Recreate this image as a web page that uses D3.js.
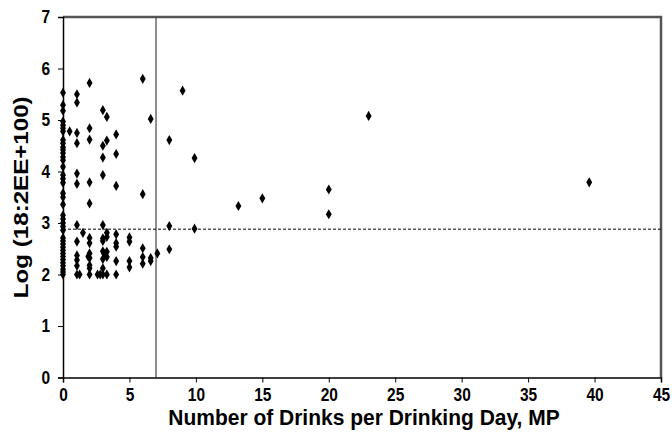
<!DOCTYPE html>
<html><head><meta charset="utf-8">
<script src="https://cdn.jsdelivr.net/npm/d3@7"></script>
<style>body{margin:0;background:#fff}svg{display:block}text{font-family:"Liberation Sans",Arial,sans-serif;font-weight:bold}</style>
</head><body>
<svg id="c" width="672" height="443"></svg>
<script>
// x values (drinks per drinking day) and y values (log(18:2EE+100))
const drinks = [
  0,0,0,0,0,0,0,0,0,0,0,0,0,0,0,0,0,0,0,0,0,0,0,0,0,0,0,0,0,0,0,0,0,0,0,0,0,0,0,
  0.5,1.5,
  1.05,1.05,1.05,1.05,1.05,1.05,1.05,1.05,1.05,1.05,1.05,1.05,1.25,
  2,2,2,2,2,2,2,2,2,2,2,2,1.9,
  3,3,3,3,3,3,3,3,3,3,3,2.6,2.8,3.3,
  3.3,3.3,3.3,3.3,3.3,3.3,3.1,
  4,4,4,4,4,4,4,4,
  5,5,5,5,
  6,6,6,6,6,
  6.6,6.6,6.6,
  7.1,
  8,8,8,
  9,
  9.9,9.9,
  13.2,15,20,20,23,39.6
];
const logEE = [
  5.53,5.29,5.18,4.97,4.90,4.84,4.78,4.61,4.55,4.47,4.42,4.36,4.28,4.22,4.09,3.93,3.86,3.78,3.58,3.50,3.36,3.15,3.08,3.00,2.93,2.86,2.71,2.65,2.59,2.53,2.47,2.41,2.35,2.29,2.23,2.17,2.10,2.05,2.00,
  4.78,2.81,
  5.50,5.34,4.75,4.55,3.96,3.76,2.96,2.64,2.37,2.28,2.17,2.00,2.00,
  5.72,4.84,4.62,3.79,3.38,2.71,2.61,2.41,2.32,2.18,2.12,2.00,2.35,
  5.19,4.50,4.27,3.93,2.96,2.70,2.65,2.45,2.30,2.12,2.00,2.00,2.00,2.00,
  5.06,4.60,2.81,2.73,2.44,2.34,2.40,
  4.72,4.34,3.72,2.78,2.61,2.54,2.26,2.00,
  2.72,2.64,2.26,2.14,
  5.80,3.56,2.51,2.34,2.21,
  5.02,2.32,2.26,
  2.41,
  4.61,2.94,2.49,
  5.57,
  4.26,2.89,
  3.33,3.48,3.65,3.17,5.08,3.79
];
const xTicks = [0,5,10,15,20,25,30,35,40,45];
const yTicks = [0,1,2,3,4,5,6,7];
const refX = 7;
const refY = 2.88;
const xTitle = "Number of Drinks per Drinking Day, MP";
const yTitle = "Log (18:2EE+100)";

const svg = d3.select("#c");
const m = {l:63, r:11, t:17, b:65.5};
const W = 672, H = 443;
const x = d3.scaleLinear().domain([0,45]).range([m.l, W-m.r]);
const y = d3.scaleLinear().domain([0,7]).range([H-m.b, m.t]);
const stretch = 1.15;

// frame top/right
svg.append("path").attr("d",`M${x(0)},${y(7)}H${x(45)}V${y(0)}`)
  .attr("fill","none").attr("stroke","#555").attr("stroke-width",2.5);

// reference lines
svg.append("line").attr("x1",x(refX)).attr("x2",x(refX)).attr("y1",y(0)).attr("y2",y(7))
  .attr("stroke","#444").attr("stroke-width",1.2);
svg.append("line").attr("x1",x(0)).attr("x2",x(45)).attr("y1",y(refY)).attr("y2",y(refY))
  .attr("stroke","#000").attr("stroke-width",1).attr("stroke-dasharray","3,2");

// axes
const xa = svg.append("g").attr("transform",`translate(0,${y(0)})`)
  .call(d3.axisBottom(x).tickValues(xTicks).tickFormat(d3.format("d")).tickSize(5).tickPadding(6));
const ya = svg.append("g").attr("transform",`translate(${x(0)},0)`)
  .call(d3.axisLeft(y).tickValues(yTicks).tickFormat(d3.format("d")).tickSize(5).tickPadding(8));
[xa,ya].forEach(g=>{
  g.select(".domain").attr("stroke","#000").attr("stroke-width",1.5);
  g.selectAll(".tick line").attr("stroke","#000").attr("stroke-width",1);
  g.selectAll("text").attr("font-size",15.5).attr("font-family","'Liberation Sans',Arial,sans-serif").attr("font-weight","bold").attr("fill","#000")
    .each(function(){
      const t = d3.select(this);
      const yy = +t.attr("y") || 0;
      t.attr("y", yy/stretch).attr("transform",`scale(1,${stretch})`);
    });
});

// points
const sym = d3.symbol().type(d3.symbolDiamond).size(30);
svg.append("g").selectAll("path").data(drinks.map((d,i)=>[d,logEE[i]])).join("path")
  .attr("d",sym).attr("transform",d=>`translate(${x(d[0])},${y(d[1])})`).attr("fill","#000");

// titles
svg.append("text").attr("transform",`translate(${(x(0)+x(45))/2 + 2},425) scale(1,1.07)`).attr("text-anchor","middle")
  .attr("font-size",21).text(xTitle);
svg.append("text").attr("transform",`translate(28,${(y(0)+y(7))/2}) rotate(-90) scale(${stretch},1)`).attr("text-anchor","middle")
  .attr("font-size",21).text(yTitle);
</script>
</body></html>
